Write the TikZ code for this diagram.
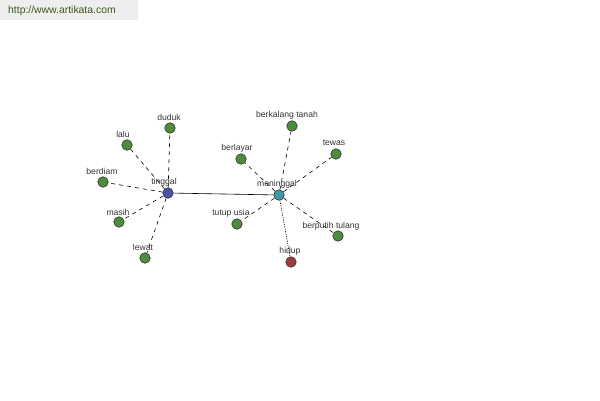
\documentclass[tikz,border=0pt]{standalone}
\usepackage{fontspec}
\setmainfont{Liberation Sans}
\definecolor{gnode}{HTML}{4E8C3E}
\definecolor{bnode}{HTML}{4A4FA8}
\definecolor{tnode}{HTML}{3E9AA8}
\definecolor{rnode}{HTML}{A03C3C}
\definecolor{lbl}{HTML}{333333}
\definecolor{urlbg}{HTML}{EEEEEE}
\definecolor{urltx}{HTML}{3A5A1A}
\tikzset{
  dot/.style={circle,draw=black!80,line width=0.6pt,inner sep=0pt,minimum size=10.5pt},
  gdot/.style={dot,fill=gnode},
  lab/.style={font=\fontsize{8.6}{10}\selectfont,text=lbl,inner sep=0pt},
  dashedge/.style={draw=black,line width=0.6pt,dash pattern=on 4pt off 4pt},
  dotedge/.style={draw=black,line width=0.6pt,dash pattern=on 1.2pt off 1.2pt},
  solidedge/.style={draw=black,line width=0.6pt}
}
\begin{document}
\begin{tikzpicture}[x=1pt,y=-1pt]
\useasboundingbox[fill=white] (0,0) rectangle (600,400);
\fill[urlbg] (0,0) rectangle (138,20);
\node[font=\fontsize{10.4}{11}\selectfont,text=urltx,anchor=west,inner sep=0pt] (url) at (8,11) {http://www.artikata.com};
% nodes
\node[dot,fill=bnode] (tinggal) at (168,193) {};
\node[dot,fill=tnode] (meninggal) at (279,195) {};
\node[gdot] (duduk) at (170,128) {};
\node[gdot] (lalu) at (127,145) {};
\node[gdot] (berdiam) at (103,182) {};
\node[gdot] (masih) at (119,222) {};
\node[gdot] (lewat) at (145,258) {};
\node[gdot] (berkalang) at (292,126) {};
\node[gdot] (berlayar) at (241,159) {};
\node[gdot] (tewas) at (336,154) {};
\node[gdot] (tutup) at (237,224) {};
\node[gdot] (berputih) at (338,236) {};
\node[dot,fill=rnode] (hidup) at (291,262) {};
% edges
\draw[solidedge] (tinggal) -- (meninggal);
\foreach \n in {duduk,lalu,berdiam,masih,lewat}
  \draw[dashedge] (tinggal) -- (\n);
\foreach \n in {berkalang,berlayar,tewas,tutup,berputih}
  \draw[dashedge] (meninggal) -- (\n);
\draw[dotedge] (meninggal) -- (hidup);
% labels
\node[lab] (ltinggal) at (164,182) {tinggal};
\node[lab] (lmeninggal) at (277,184) {meninggal};
\node[lab] (lduduk) at (169,117) {duduk};
\node[lab] (llalu) at (123,134) {lalu};
\node[lab] (lberdiam) at (102,171) {berdiam};
\node[lab] (lmasih) at (118,212) {masih};
\node[lab] (llewat) at (143,247) {lewat};
\node[lab] (lberkalang) at (287,115) {berkalang tanah};
\node[lab] (lberlayar) at (237,148) {berlayar};
\node[lab] (ltewas) at (334,143) {tewas};
\node[lab] (ltutup) at (231,213) {tutup usia};
\node[lab] (lberputih) at (331,226) {berputih tulang};
\node[lab] (lhidup) at (290,251) {hidup};
\end{tikzpicture}
\end{document}
